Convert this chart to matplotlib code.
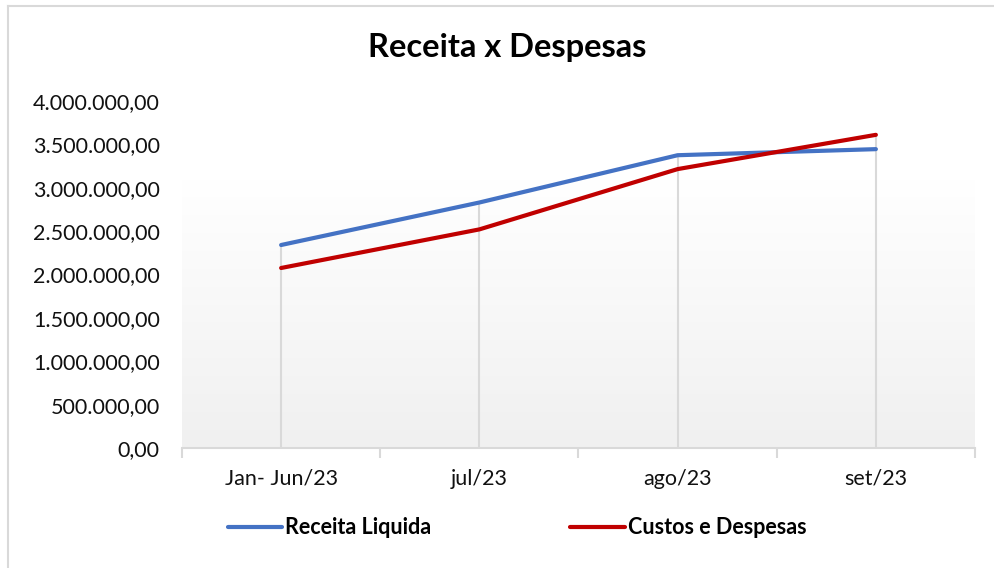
import numpy as np
import matplotlib
matplotlib.use('Agg')
import matplotlib.pyplot as plt
from matplotlib.colors import LinearSegmentedColormap
from matplotlib.lines import Line2D
from matplotlib.ticker import FuncFormatter, FixedLocator

plt.rcParams['font.family'] = ['Lato', 'DejaVu Sans']

# Data
categories = ['Jan- Jun/23', 'jul/23', 'ago/23', 'set/23']
receita = [2340000, 2830000, 3375000, 3445000]
custos = [2075000, 2520000, 3215000, 3610000]
yticks = np.arange(0, 4000001, 500000)


def br_fmt(v, pos=None):
    s = f"{v:,.2f}"
    return s.replace(',', 'X').replace('.', ',').replace('X', '.')


fig = plt.figure(figsize=(9.95, 5.68), dpi=100)
ax = fig.add_axes([182 / 995, 1 - 448 / 568, 793 / 995, 347 / 568])

x = np.arange(len(categories))

# Gradient background in plot area
cmap = LinearSegmentedColormap.from_list('bg', ['#f0f0f0', '#ffffff'])
grad = np.linspace(0, 1, 256).reshape(-1, 1)
ax.imshow(grad, extent=(-0.5, 3.5, 0, 3.1e6), origin='lower', aspect='auto',
          cmap=cmap, zorder=0)

# Drop lines
tops = np.maximum(receita, custos)
ax.vlines(x, 0, tops, color='#d9d9d9', lw=1.5, zorder=1)

ax.plot(x, receita, color='#4472C4', lw=3, solid_capstyle='round', zorder=3)
ax.plot(x, custos, color='#C00000', lw=3, solid_capstyle='round', zorder=3)

ax.set_xlim(-0.5, 3.5)
ax.set_ylim(0, 4000000)
ax.set_yticks(yticks)
ax.yaxis.set_major_formatter(FuncFormatter(br_fmt))
ax.set_xticks(x)
ax.set_xticklabels(categories)
ax.xaxis.set_minor_locator(FixedLocator(np.arange(-0.5, 3.6, 1)))

for s in ['left', 'right', 'top']:
    ax.spines[s].set_visible(False)
ax.spines['bottom'].set_color('#d9d9d9')
ax.spines['bottom'].set_linewidth(1.5)

ax.tick_params(axis='y', length=0, pad=16, labelsize=15.5, labelcolor='#111111')
ax.tick_params(axis='x', which='major', length=0, pad=15, labelsize=15.5,
               labelcolor='#111111')
ax.tick_params(axis='x', which='minor', length=7, width=1.5, color='#d9d9d9')

# Title
fig.text(507 / 995, 1 - 48 / 568, 'Receita x Despesas', ha='center', va='center',
         fontsize=23.5, fontweight='bold')

# Legend drawn manually
ly = 1 - 527 / 568
fig.add_artist(Line2D([228 / 995, 282 / 995], [ly, ly], color='#4472C4', lw=3,
                      solid_capstyle='round'))
fig.text(285 / 995, ly, 'Receita Liquida', ha='left', va='center',
         fontsize=15.5, fontweight='bold')
fig.add_artist(Line2D([570 / 995, 625 / 995], [ly, ly], color='#C00000', lw=3,
                      solid_capstyle='round'))
fig.text(628 / 995, ly, 'Custos e Despesas', ha='left', va='center',
         fontsize=15.5, fontweight='bold')

# Chart border (left and top)
fig.add_artist(Line2D([8 / 995, 8 / 995], [0, 1 - 6 / 568], color='#d9d9d9', lw=1.5))
fig.add_artist(Line2D([8 / 995, 1], [1 - 6 / 568, 1 - 6 / 568], color='#d9d9d9', lw=1.5))

fig.savefig('out.png', dpi=100)
